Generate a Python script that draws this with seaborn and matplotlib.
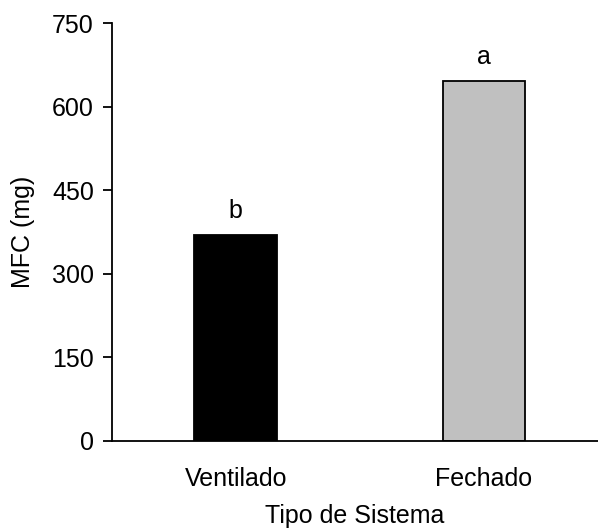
import matplotlib
matplotlib.use("Agg")
import matplotlib.pyplot as plt
import seaborn as sns
import pandas as pd

categories = ["Ventilado", "Fechado"]
values = [370, 647]
letters = ["b", "a"]
colors = ["#000000", "#C0C0C0"]

sns.set_theme(style="ticks")
plt.rcParams["font.family"] = ["Liberation Sans", "DejaVu Sans"]

df = pd.DataFrame({"Tipo": categories, "MFC": values})

fig = plt.figure(figsize=(5.98, 5.28), dpi=100)
ax = fig.add_axes([0.1878, 0.1653, 0.8117, 0.7906])

sns.barplot(data=df, x="Tipo", y="MFC", hue="Tipo", palette=colors,
            order=categories, hue_order=categories, width=0.334,
            edgecolor="black", linewidth=1.3, legend=False, ax=ax)

fs = 18
for i, (v, l) in enumerate(zip(values, letters)):
    ax.annotate(l, xy=(i, v), xytext=(0, 12), textcoords="offset points",
                ha="center", va="baseline", fontsize=fs, color="black")

ax.set_xlim(-0.497, 1.458)
ax.set_ylim(0, 750)
ax.set_yticks([0, 150, 300, 450, 600, 750])
sns.despine(ax=ax)
for s in ["left", "bottom"]:
    ax.spines[s].set_linewidth(1.3)
    ax.spines[s].set_color("black")
ax.tick_params(axis="y", length=6.3, width=1.3, pad=7, labelsize=fs, colors="black")
ax.tick_params(axis="x", length=0, pad=19, labelsize=fs, colors="black")
ax.set_xlabel("Tipo de Sistema", fontsize=fs, labelpad=9, color="black")
ax.set_ylabel("MFC (mg)", fontsize=fs, labelpad=12, color="black")

fig.savefig("out.png", dpi=100)
